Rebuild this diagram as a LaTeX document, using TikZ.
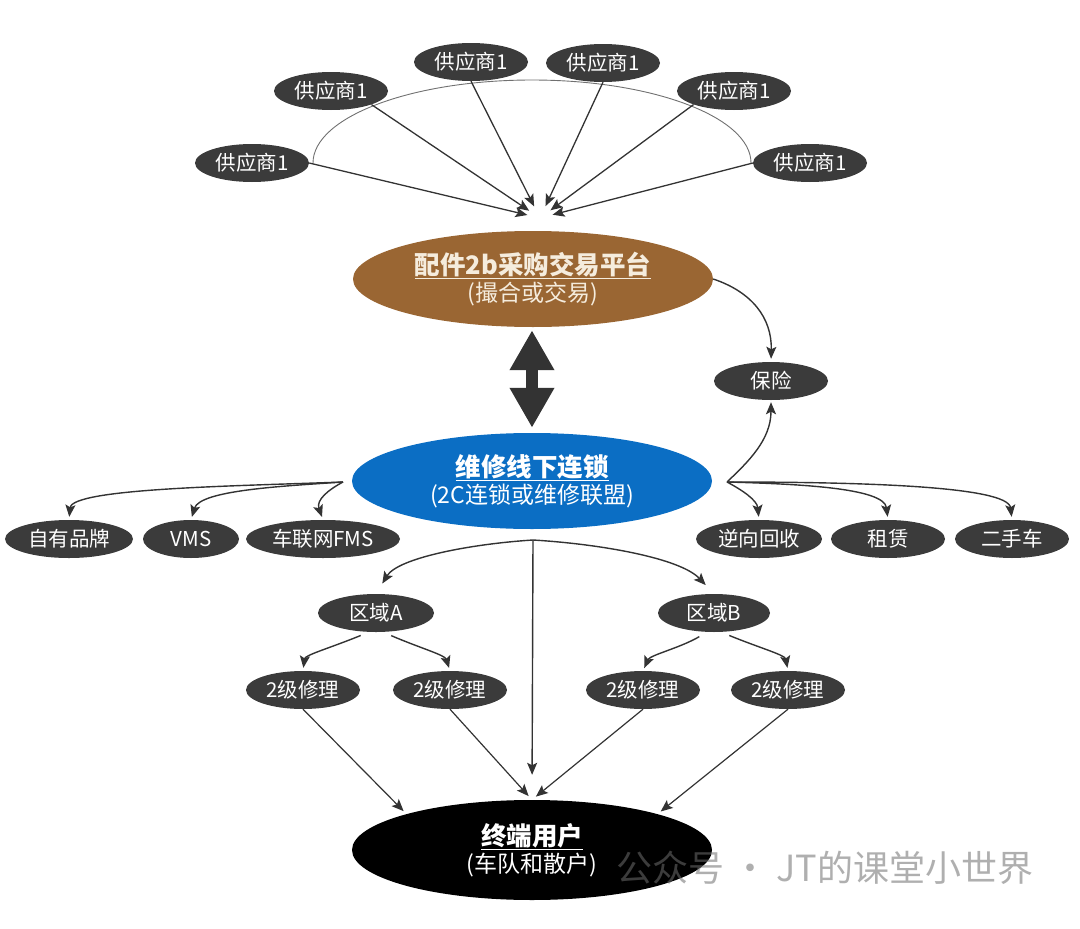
\documentclass[tikz,border=0pt]{standalone}
\usepackage{fontspec}
\setmainfont{Noto Sans CJK SC}
\usetikzlibrary{arrows.meta,shapes.geometric}
\definecolor{ndark}{HTML}{3B3B3B}
\definecolor{lnk}{HTML}{333333}
\definecolor{brownp}{HTML}{9A6633}
\definecolor{bluep}{HTML}{0B6EC4}
\definecolor{cream}{HTML}{F5ECDD}
\definecolor{arcgray}{HTML}{707070}
\definecolor{wmgray}{HTML}{6E6E6E}
\begin{document}
\begin{tikzpicture}[x=1pt,y=-1pt,
  sm/.style={ellipse,fill=ndark,text=white,inner sep=0pt,minimum height=38pt,minimum width=114pt,
    font=\fontsize{20.5}{21}\selectfont},
  big/.style={ellipse,inner sep=0pt,minimum width=360pt,minimum height=96pt,align=center,
    font=\fontsize{25.5}{30}\selectfont},
  arr/.style={draw=lnk,line width=1.4pt,-{Stealth[length=12pt,width=10pt,inset=2.5pt]}},
  sarr/.style={draw=lnk,line width=1.3pt,-{Stealth[length=12pt,width=10pt,inset=2.5pt]},shorten >=13pt},
  dbl/.style={draw=lnk,line width=12pt,{Triangle[length=40pt,width=42pt]}-{Triangle[length=40pt,width=42pt]}},
  arcline/.style={draw=arcgray,line width=0.9pt},
  wm/.style={text=wmgray,opacity=0.55,font=\fontsize{36}{38}\selectfont}
]
\useasboundingbox (0,0) rectangle (1080,929);

% arc behind suppliers
\coordinate (arcL) at (313,163);
\draw[arcline] (arcL) arc[start angle=180,end angle=360,x radius=219,y radius=83];

% suppliers
\node[sm] (s1) at (252,163) {供应商1};
\node[sm] (s2) at (331,91) {供应商1};
\node[sm] (s3) at (471,62) {供应商1};
\node[sm] (s4) at (603,63) {供应商1};
\node[sm] (s5) at (734,91) {供应商1};
\node[sm] (s6) at (810,163) {供应商1};

% main ellipses
\node[big,fill=brownp,text=cream] (plat) at (533,279)
  {\textbf{\underline{配件2b采购交易平台}}\\[-3pt]{\fontsize{23}{26}\selectfont (撮合或交易)}};
\node[big,fill=bluep,text=white] (blue) at (532,481)
  {\textbf{\underline{维修线下连锁}}\\[-3pt]{\fontsize{23}{26}\selectfont (2C连锁或维修联盟)}};
\node[big,fill=black,text=white,minimum height=100pt] (term) at (532,850)
  {\textbf{\underline{终端用户}}\\[-3pt]{\fontsize{23}{26}\selectfont (车队和散户)}};

% other nodes
\node[sm] (bao) at (771,381) {保险};
\node[sm,minimum width=128pt] (zy) at (69,539) {自有品牌};
\node[sm,minimum width=96pt] (vms) at (191,539) {VMS};
\node[sm,minimum width=154pt] (fms) at (323,539) {车联网FMS};
\node[sm,minimum width=126pt] (nx) at (759,539) {逆向回收};
\node[sm] (zl) at (888,539) {租赁};
\node[sm] (esc) at (1012,539) {二手车};
\node[sm,minimum width=116pt] (qa) at (376,613) {区域A};
\node[sm,minimum width=112pt] (qb) at (714,613) {区域B};
\node[sm] (a1) at (303,690) {2级修理};
\node[sm] (a2) at (450,690) {2级修理};
\node[sm] (b1) at (643,690) {2级修理};
\node[sm] (b2) at (788,690) {2级修理};

% supplier arrows
\coordinate (conv) at (540,218);
\draw[sarr] (s1.east) -- (conv);
\draw[sarr] (s2.south east) -- (conv);
\draw[sarr] (s3.south) -- (conv);
\draw[sarr] (s4.south) -- (conv);
\draw[sarr] (s5.south west) -- (conv);
\draw[sarr] (s6.west) -- (conv);

% double arrow
\draw[dbl,shorten <=3pt,shorten >=5pt] (plat.south -| 532,0) -- (blue.north -| 532,0);

% insurance
\draw[arr,shorten >=3pt] (plat.east) .. controls (752,292) and (772,318) .. (bao.north);
\coordinate (rfan) at (727,482);
\coordinate (lfan) at (343,482);
\draw[arr,shorten >=2pt] (rfan) .. controls (748,462) and (771,440) .. (bao.south);

% right fan
\draw[arr,shorten >=3pt] (rfan) .. controls (742,490) and (757,500) .. (nx.north);
\draw[arr,shorten >=3pt] (rfan) .. controls (800,484) and (884,488) .. (zl.north);
\draw[arr,shorten >=3pt] (rfan) .. controls (860,482) and (1008,486) .. (esc.north);

% left fan
\draw[arr,shorten >=3pt] (lfan) .. controls (240,486) and (72,488) .. (zy.north);
\draw[arr,shorten >=3pt] (lfan) .. controls (285,486) and (200,490) .. (vms.north);
\draw[arr,shorten >=3pt] (lfan) .. controls (328,490) and (316,500) .. (fms.north);

% down from chain
\coordinate (dn) at (533,540);
\draw[arr,shorten >=25pt] (dn) -- (term.north);
\draw[arr,shorten >=12pt] (dn) .. controls (470,544) and (398,558) .. (qa.north);
\draw[arr,shorten >=12pt] (dn) .. controls (600,544) and (680,558) .. (qb.north);

% regions to level-2
\draw[arr,shorten <=9pt,shorten >=3pt] (qa.250) .. controls (330,648) and (305,655) .. (a1.north);
\draw[arr,shorten <=9pt,shorten >=3pt] (qa.290) .. controls (420,648) and (445,655) .. (a2.north);
\draw[arr,shorten <=9pt,shorten >=3pt] (qb.250) .. controls (680,648) and (650,655) .. (b1.north);
\draw[arr,shorten <=9pt,shorten >=3pt] (qb.290) .. controls (760,648) and (785,655) .. (b2.north);

% level-2 to end users
\draw[arr,line width=1.2pt,shorten >=4pt] (a1.south) -- (term.164);
\draw[arr,line width=1.2pt,shorten >=5pt] (a2.south) -- (term.north);
\draw[arr,line width=1.2pt,shorten >=5pt] (b1.south) -- (term.north);
\draw[arr,line width=1.2pt,shorten >=4pt] (b2.south) -- (term.16);

% watermark
\node[wm] (wmark) at (825,868) {公众号\hspace{8pt}·\hspace{8pt}JT的课堂小世界};
\end{tikzpicture}
\end{document}
